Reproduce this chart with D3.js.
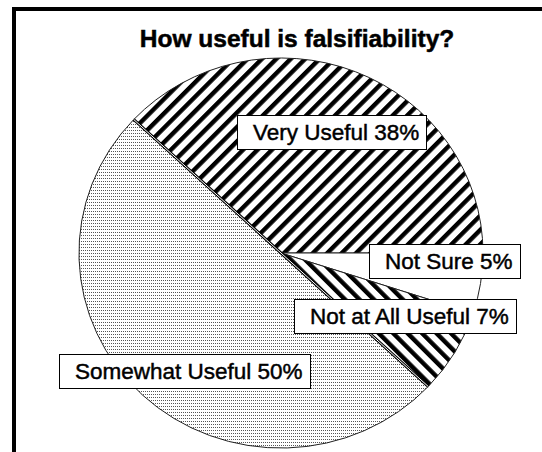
<!DOCTYPE html>
<html>
<head>
<meta charset="utf-8">
<script src="https://cdn.jsdelivr.net/npm/d3@7"></script>
<style>
  html, body { margin: 0; padding: 0; background: #fff; overflow: hidden; }
  text { font-family: Arial, "Liberation Sans", Helvetica, sans-serif; }
</style>
</head>
<body>
<svg id="chart" width="542" height="452"></svg>
<script>
// Survey answers: share of respondents per answer (percent)
const categories = ["Very Useful", "Not Sure", "Not at All Useful", "Somewhat Useful"];
const values = [38, 5, 7, 50];
const titleText = "How useful is falsifiability?";

// Slice fills (pattern ids) per category
const fills = ["hatchUp", "none", "hatchDown", "dots"];

// Layout
const W = 542, H = 452;
const cx = 281, cy = 253, rx = 202, ry = 195;
const sx = rx / ry;                     // horizontal stretch of the pie
const labelBoxes = [[237, 115], [369, 244], [294, 299], [59, 354]];
const boxH = 34, padL = 16, padR = 7;

const svg = d3.select("#chart");
svg.append("rect").attr("width", W).attr("height", H).attr("fill", "#fff");

// Fill patterns (the compensating scale keeps them square on screen)
const defs = svg.append("defs");
function stripes(id, angle) {
  const period = 10.2;
  const p = defs.append("pattern").attr("id", id)
    .attr("patternUnits", "userSpaceOnUse")
    .attr("width", period).attr("height", period)
    .attr("patternTransform", `scale(${1 / sx},1) rotate(${angle})`);
  p.append("rect").attr("width", period).attr("height", period).attr("fill", "#fff");
  p.append("rect").attr("width", 4.4).attr("height", period).attr("fill", "#000");
}
stripes("hatchUp", 45);
stripes("hatchDown", -45);
const dp = defs.append("pattern").attr("id", "dots")
  .attr("patternUnits", "userSpaceOnUse")
  .attr("width", 2).attr("height", 3)
  .attr("patternTransform", `scale(${1 / sx},1)`);
dp.append("rect").attr("width", 2).attr("height", 3).attr("fill", "#fff");
dp.append("rect").attr("width", 1).attr("height", 1).attr("fill", "#555");

// Outer frame
svg.append("rect")
  .attr("x", 14).attr("y", 9).attr("width", 700).attr("height", 600)
  .attr("fill", "none").attr("stroke", "#000").attr("stroke-width", 4);

// Title
svg.append("text")
  .attr("x", 297).attr("y", 47)
  .attr("text-anchor", "middle")
  .attr("font-size", 24.5).attr("font-weight", "bold")
  .attr("fill", "#000").attr("stroke", "#000").attr("stroke-width", 0.5)
  .text(titleText);

// Pie: first slice ends at three o'clock, slices run clockwise
const total = d3.sum(values);
const a0 = Math.PI / 2 - values[0] / total * 2 * Math.PI;
const pie = d3.pie().sort(null).value(d => d)
  .startAngle(a0).endAngle(a0 + 2 * Math.PI);
const arcs = pie(values);
const arc = d3.arc().innerRadius(0).outerRadius(ry);

const g = svg.append("g").attr("transform", `translate(${cx},${cy}) scale(${sx},1)`);
g.selectAll("path.slice")
  .data(arcs)
  .join("path")
  .attr("class", "slice")
  .attr("d", arc)
  .attr("fill", (d, i) => fills[i] === "none" ? "#fff" : `url(#${fills[i]})`)
  .attr("stroke", "#222")
  .attr("stroke-width", 1)
  .attr("vector-effect", "non-scaling-stroke");

// Diameter edge of the half slice drawn as a double rule
const pt = a => [cx + rx * Math.sin(a), cy - ry * Math.cos(a)];
const half = arcs[3];
const p1 = pt(half.startAngle), p2 = pt(half.endAngle);
svg.append("line")
  .attr("x1", p1[0]).attr("y1", p1[1]).attr("x2", p2[0]).attr("y2", p2[1])
  .attr("stroke", "#000").attr("stroke-width", 3);
svg.append("line")
  .attr("x1", p1[0]).attr("y1", p1[1]).attr("x2", p2[0]).attr("y2", p2[1])
  .attr("stroke", "#fff").attr("stroke-width", 1);

// Data labels in boxes
const labels = svg.selectAll("g.label")
  .data(arcs)
  .join("g")
  .attr("class", "label")
  .attr("transform", (d, i) => `translate(${labelBoxes[i][0]},${labelBoxes[i][1]})`);
labels.append("rect")
  .attr("x", 0.5).attr("y", 0.5).attr("height", boxH)
  .attr("fill", "#fff").attr("stroke", "#000").attr("stroke-width", 1);
const txt = labels.append("text")
  .attr("x", padL).attr("y", 25)
  .attr("font-size", 22.5)
  .attr("fill", "#000").attr("stroke", "#000").attr("stroke-width", 0.45)
  .text((d, i) => `${categories[i]} ${d3.format("d")(d.value / total * 100)}%`);
txt.each(function () {
  const w = this.getComputedTextLength();
  d3.select(this.parentNode).select("rect").attr("width", Math.round(w + padL + padR));
});
</script>
</body>
</html>
